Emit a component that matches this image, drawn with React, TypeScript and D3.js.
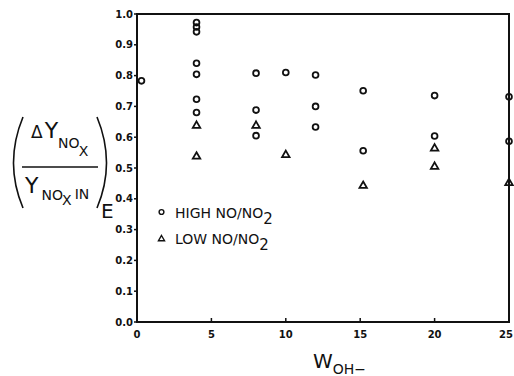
import React, { useEffect, useRef } from 'react';
import * as d3 from 'd3';

const highX = [0.3, 4, 4, 4, 4, 4, 4, 4, 8, 8, 8, 10, 12, 12, 12, 15.2, 15.2, 20, 20, 25, 25];
const highY = [0.783, 0.972, 0.958, 0.942, 0.84, 0.804, 0.723, 0.68, 0.808, 0.688, 0.605, 0.81, 0.802, 0.7, 0.633, 0.751, 0.556, 0.735, 0.604, 0.731, 0.587];
const lowX = [4, 4, 8, 10, 15.2, 20, 20, 25];
const lowY = [0.64, 0.54, 0.64, 0.545, 0.445, 0.566, 0.507, 0.454];
const xTicks = [0, 5, 10, 15, 20, 25];
const yTicks = [0, 0.1, 0.2, 0.3, 0.4, 0.5, 0.6, 0.7, 0.8, 0.9, 1.0];

const App = () => {
  const ref = useRef<SVGSVGElement>(null);

  useEffect(() => {
    const width = 514;
    const height = 376;
    const ink = '#111';

    const svg = d3.select(ref.current)
      .attr('width', width)
      .attr('height', height);
    svg.selectAll('*').remove();

    svg.append('rect').attr('width', width).attr('height', height).attr('fill', '#fff');

    const x = d3.scaleLinear().domain([0, 25]).range([137, 509]);
    const y = d3.scaleLinear().domain([0, 1]).range([322, 14]);

    // frame
    svg.append('rect')
      .attr('x', x(0))
      .attr('y', y(1))
      .attr('width', x(25) - x(0))
      .attr('height', y(0) - y(1))
      .attr('fill', 'none')
      .attr('stroke', ink)
      .attr('stroke-width', 2);

    // y ticks
    svg.selectAll('.ytick')
      .data(yTicks)
      .enter().append('line')
      .attr('x1', x(0) - 3)
      .attr('x2', x(0))
      .attr('y1', d => y(d))
      .attr('y2', d => y(d))
      .attr('stroke', ink)
      .attr('stroke-width', 1.5);

    svg.selectAll('.ylabel')
      .data(yTicks)
      .enter().append('text')
      .attr('x', x(0) - 4)
      .attr('y', d => y(d))
      .attr('dy', '0.35em')
      .attr('text-anchor', 'end')
      .attr('font-family', 'DejaVu Sans')
      .attr('font-weight', 'bold')
      .attr('font-size', 10)
      .attr('fill', ink)
      .text(d => d.toFixed(1));

    // x ticks
    svg.selectAll('.xtick')
      .data(xTicks.slice(1, -1))
      .enter().append('line')
      .attr('x1', d => x(d))
      .attr('x2', d => x(d))
      .attr('y1', y(0))
      .attr('y2', y(0) - 4)
      .attr('stroke', ink)
      .attr('stroke-width', 1.5);

    // last label sits against the page edge, keep it inside
    svg.selectAll('.xlabel')
      .data(xTicks)
      .enter().append('text')
      .attr('x', d => Math.min(x(d), width - 8))
      .attr('y', y(0) + 16)
      .attr('text-anchor', 'middle')
      .attr('font-family', 'DejaVu Sans')
      .attr('font-weight', 'bold')
      .attr('font-size', 10)
      .attr('fill', ink)
      .text(d => d);

    // points
    const tri = d3.symbol().type(d3.symbolTriangle).size(24);

    svg.selectAll('.high')
      .data(highX.map((d, i) => [d, highY[i]]))
      .enter().append('circle')
      .attr('cx', d => x(d[0]))
      .attr('cy', d => y(d[1]))
      .attr('r', 2.9)
      .attr('fill', 'none')
      .attr('stroke', ink)
      .attr('stroke-width', 1.8);

    svg.selectAll('.low')
      .data(lowX.map((d, i) => [d, lowY[i]]))
      .enter().append('path')
      .attr('d', tri)
      .attr('transform', d => `translate(${x(d[0])},${y(d[1]) + 0.8})`)
      .attr('fill', 'none')
      .attr('stroke', ink)
      .attr('stroke-width', 1.8);

    // legend
    const leg = svg.append('g').attr('font-family', 'DejaVu Sans').attr('font-size', 14).attr('fill', ink);
    leg.append('circle').attr('cx', 161.5).attr('cy', 212).attr('r', 2.4)
      .attr('fill', 'none').attr('stroke', ink).attr('stroke-width', 1.4);
    leg.append('path').attr('d', d3.symbol().type(d3.symbolTriangle).size(16))
      .attr('transform', 'translate(161.5,239)')
      .attr('fill', 'none').attr('stroke', ink).attr('stroke-width', 1.4);
    const t1 = leg.append('text').attr('x', 175).attr('y', 217.5);
    t1.append('tspan').text('HIGH NO/NO');
    t1.append('tspan').attr('dy', 6).attr('font-size', 15).text('2');
    const t2 = leg.append('text').attr('x', 175).attr('y', 244);
    t2.append('tspan').text('LOW NO/NO');
    t2.append('tspan').attr('dy', 6).attr('font-size', 15).text('2');

    // x axis title
    const xt = svg.append('text').attr('x', 313).attr('y', 368)
      .attr('font-family', 'DejaVu Sans').attr('font-size', 20).attr('fill', ink);
    xt.append('tspan').text('W');
    xt.append('tspan').attr('dy', 6).attr('font-size', 14).text('OH−');

    // y axis title
    const yl = svg.append('g').attr('font-family', 'DejaVu Sans').attr('fill', ink);
    yl.append('path').attr('d', 'M23,117 Q4,163 23,208')
      .attr('fill', 'none').attr('stroke', ink).attr('stroke-width', 1.6);
    yl.append('path').attr('d', 'M97,117 Q116,163 97,208')
      .attr('fill', 'none').attr('stroke', ink).attr('stroke-width', 1.6);
    yl.append('line').attr('x1', 22).attr('x2', 98).attr('y1', 167).attr('y2', 167)
      .attr('stroke', ink).attr('stroke-width', 1.4);
    const num = yl.append('text').attr('x', 31).attr('y', 138).attr('font-size', 22);
    num.append('tspan').attr('font-size', 17).text('Δ');
    num.append('tspan').attr('dx', 2).text('Y');
    num.append('tspan').attr('dy', 10).attr('font-size', 14).text('NO');
    num.append('tspan').attr('dy', 8).attr('font-size', 14).text('X');
    const den = yl.append('text').attr('x', 25).attr('y', 193).attr('font-size', 22);
    den.append('tspan').text('Y');
    den.append('tspan').attr('dx', 3).attr('dy', 7).attr('font-size', 14).text('NO');
    den.append('tspan').attr('dy', 5).attr('font-size', 14).text('X');
    den.append('tspan').attr('dx', 3).attr('dy', -6).attr('font-size', 14).text('IN');
    yl.append('text').attr('x', 101).attr('y', 218).attr('font-size', 20).text('E');
  }, []);

  return <svg ref={ref} style={{ position: 'absolute', left: 0, top: 0, display: 'block' }}></svg>;
};

export default App;
